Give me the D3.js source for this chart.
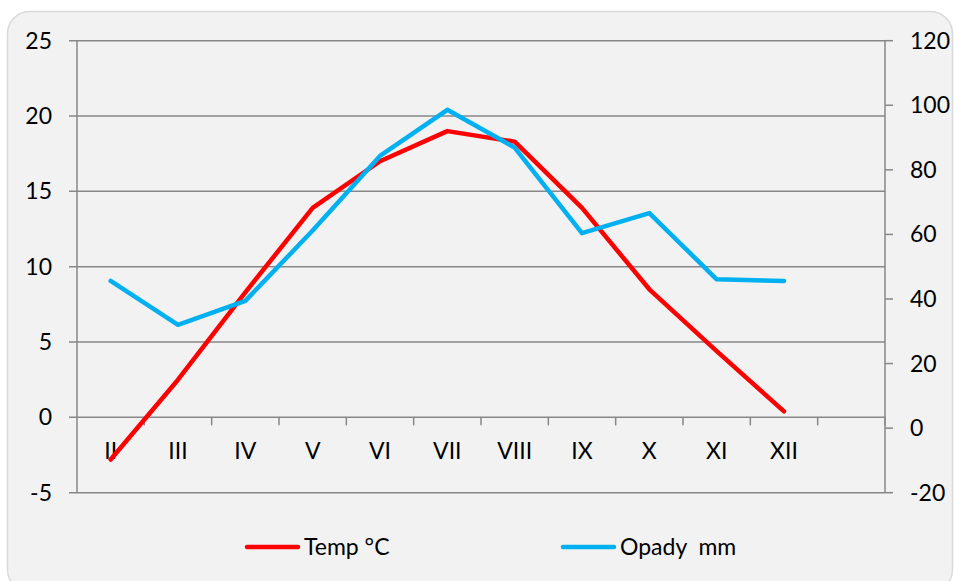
<!DOCTYPE html>
<html><head><meta charset="utf-8">
<script src="https://cdn.jsdelivr.net/npm/d3@7"></script>
<style>body{margin:0;background:#fff}svg{display:block}text{font-family:Lato,"Open Sans",sans-serif;fill:#000}</style>
</head><body>
<svg id="c" width="955" height="581"></svg>
<script>
const categories = ["II","III","IV","V","VI","VII","VIII","IX","X","XI","XII",""];
const tempValues = [-2.8,2.5,8.3,13.9,17.0,19.0,18.3,13.9,8.5,4.4,0.4];
const precipValues = [45.6,32.0,39.4,61.2,84.3,98.6,86.9,60.4,66.6,46.1,45.6];
const leftTicks = [-5,0,5,10,15,20,25];
const rightTicks = [-20,0,20,40,60,80,100,120];
const seriesNames = ["Temp °C","Opady  mm"];
const seriesColors = ["#ff0000","#00b0f0"];
const FS = "23px";

const svg = d3.select("#c");
svg.append("rect").attr("x",7.5).attr("y",11.5).attr("width",945).attr("height",580)
  .attr("rx",22).attr("fill","#f2f2f2").attr("stroke","#d9d9d9").attr("stroke-width",1.5);

const L=77, R=885, T=40.7, B=492.7;
const x = d3.scaleBand().domain(categories).range([L,R]).padding(0);
const yL = d3.scaleLinear().domain([-5,25]).range([B,T]);
const yR = d3.scaleLinear().domain([-20,120]).range([B,T]);
const grid="#878787";

svg.append("g").selectAll("line").data(leftTicks).join("line")
  .attr("x1",L-8).attr("x2",R).attr("y1",d=>yL(d)).attr("y2",d=>yL(d))
  .attr("stroke",grid).attr("stroke-width",1.5);
svg.append("line").attr("x1",L).attr("x2",L).attr("y1",T).attr("y2",B).attr("stroke",grid).attr("stroke-width",1.5);
svg.append("line").attr("x1",R).attr("x2",R).attr("y1",T).attr("y2",B).attr("stroke",grid).attr("stroke-width",1.5);

svg.append("g").selectAll("text").data(leftTicks).join("text")
  .attr("x",52).attr("y",d=>yL(d)).attr("dy","0.35em").attr("text-anchor","end")
  .style("font-size",FS).text(d=>d);
svg.append("g").selectAll("line").data(rightTicks).join("line")
  .attr("x1",R).attr("x2",R+8).attr("y1",d=>yR(d)).attr("y2",d=>yR(d))
  .attr("stroke",grid).attr("stroke-width",1.5);
svg.append("g").selectAll("text").data(rightTicks).join("text")
  .attr("x",910).attr("y",d=>yR(d)).attr("dy","0.35em").attr("text-anchor","start")
  .style("font-size",FS).text(d=>d);

const y0 = yL(0);
const bounds = categories.map(c=>x(c)).concat([R]);
svg.append("g").selectAll("line").data(bounds.slice(1)).join("line")
  .attr("x1",d=>d).attr("x2",d=>d).attr("y1",y0).attr("y2",y0+8)
  .attr("stroke",grid).attr("stroke-width",1.5);
svg.append("g").selectAll("text").data(categories).join("text")
  .attr("x",d=>x(d)+x.bandwidth()/2).attr("y",y0+34).attr("dy","0.35em").attr("text-anchor","middle")
  .style("font-size",FS).text(d=>d);

const cx = i=>x(categories[i])+x.bandwidth()/2;
const lineL = d3.line().x((d,i)=>cx(i)).y(d=>yL(d));
const lineR = d3.line().x((d,i)=>cx(i)).y(d=>yR(d));
svg.append("path").attr("d",lineL(tempValues)).attr("fill","none").attr("stroke",seriesColors[0])
  .attr("stroke-width",4.5).attr("stroke-linecap","round").attr("stroke-linejoin","round");
svg.append("path").attr("d",lineR(precipValues)).attr("fill","none").attr("stroke",seriesColors[1])
  .attr("stroke-width",4.5).attr("stroke-linecap","round").attr("stroke-linejoin","round");

const leg = [{x:245},{x:561}];
leg.forEach((l,i)=>{
  svg.append("line").attr("x1",l.x+2).attr("x2",l.x+53).attr("y1",547).attr("y2",547)
    .attr("stroke",seriesColors[i]).attr("stroke-width",4.5).attr("stroke-linecap","round");
  svg.append("text").attr("x",l.x+59).attr("y",547).attr("dy","0.35em")
    .style("font-size",FS).attr("xml:space","preserve").style("white-space","pre").text(seriesNames[i]);
});
</script>
</body></html>
